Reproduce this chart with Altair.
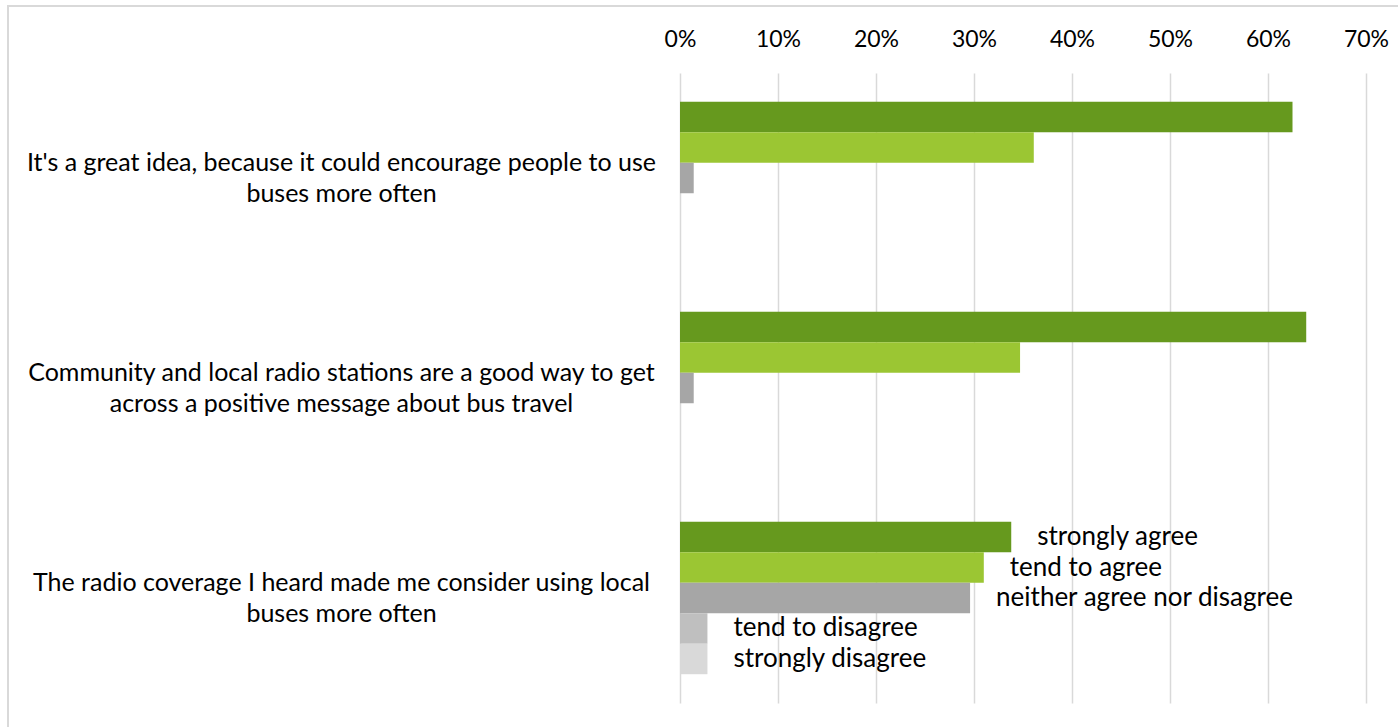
import altair as alt
import pandas as pd

categories = [
    "It's a great idea, because it could encourage people to use|buses more often",
    "Community and local radio stations are a good way to get|across a positive message about bus travel",
    "The radio coverage I heard made me consider using local|buses more often",
]
series = [
    "strongly agree",
    "tend to agree",
    "neither agree nor disagree",
    "tend to disagree",
    "strongly disagree",
]
colors = ["#66991E", "#9BC633", "#A6A6A6", "#BFBFBF", "#D9D9D9"]
values_cat1 = [0.625, 0.361, 0.014, 0.0, 0.0]
values_cat2 = [0.639, 0.347, 0.014, 0.0, 0.0]
values_cat3 = [0.338, 0.310, 0.296, 0.028, 0.028]
x_ticks = [0, 0.1, 0.2, 0.3, 0.4, 0.5, 0.6, 0.7]

rows = []
for cat, vals in zip(categories, [values_cat1, values_cat2, values_cat3]):
    for s, v in zip(series, vals):
        rows.append({"category": cat, "series": s, "value": v})
df = pd.DataFrame(rows)

FONT = "Lato"

x_enc = alt.X(
    "value:Q",
    scale=alt.Scale(domain=[0, 0.7], nice=False, zero=True),
    axis=alt.Axis(
        orient="top", values=x_ticks, format=".0%", title=None,
        domain=False, ticks=False, tickSize=0, labelPadding=22,
        labelFlush=False, labelOverlap=False,
        labelFontSize=23, labelColor="#000000", labelFont=FONT,
        grid=True, gridColor="#D9D9D9", gridWidth=1.5,
    ),
)
y_enc = alt.Y(
    "category:N",
    sort=categories,
    scale=alt.Scale(paddingInner=0.274, paddingOuter=0.137),
    axis=alt.Axis(
        title=None, domain=False, ticks=False, tickSize=0, grid=False,
        labelExpr="split(datum.label, '|')",
        labelAlign="center", labelPadding=339, labelLimit=700,
        labelFontSize=25, labelLineHeight=31, labelColor="#000000",
        labelFont=FONT, labelBaseline="middle", labelOffset=-15.5,
    ),
)
yoff = alt.YOffset("series:N", sort=series, scale=alt.Scale(paddingInner=0, paddingOuter=0))
color_enc = alt.Color("series:N", sort=series,
                      scale=alt.Scale(domain=series, range=colors), legend=None)

bars = alt.Chart(df).mark_bar(cornerRadius=0).encode(
    x=x_enc, y=y_enc, yOffset=yoff, color=color_enc
)

labels = alt.Chart(df).transform_filter(
    alt.datum.category == categories[2]
).mark_text(align="left", baseline="middle", dx=26, fontSize=26,
            font=FONT, color="#000000").encode(
    x=alt.X("value:Q"), y=alt.Y("category:N", sort=categories),
    yOffset=alt.YOffset("series:N", sort=series), text="series:N"
)

border = alt.Chart(pd.DataFrame({"a": [0]})).mark_rect(
    fill=None, stroke="#D9D9D9", strokeWidth=2
).encode(
    x=alt.value(-672), x2=alt.value(760), y=alt.value(-67), y2=alt.value(700)
)

chart = alt.layer(border, bars, labels).properties(
    width=686, height=630,
    padding={"left": 680, "top": 73, "right": 32, "bottom": 24},
    autosize=alt.AutoSizeParams(type="none"),
    background="#FFFFFF",
).configure_view(stroke=None)

chart.save("out.html", embed_options={"renderer": "svg", "actions": False})
